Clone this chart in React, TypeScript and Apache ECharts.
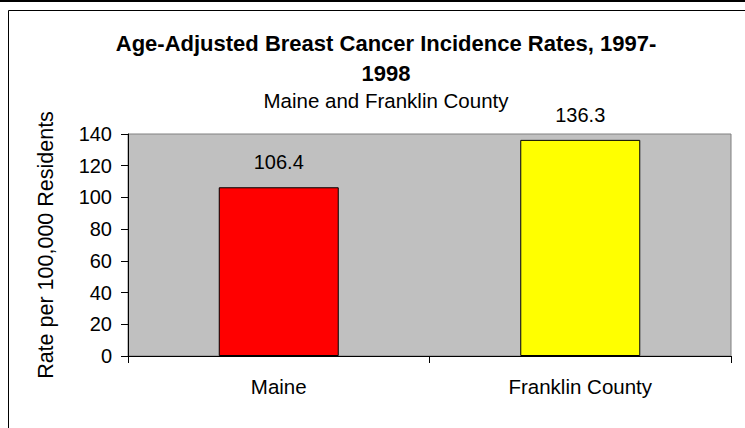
import React, { useEffect, useRef } from "react";
import * as echarts from "echarts";

const categories = ["Maine", "Franklin County"];
const rates = [106.4, 136.3];
const barColors = ["#FF0000", "#FFFF00"];
const titleText = "Age-Adjusted Breast Cancer Incidence Rates, 1997-\n1998";
const subtitleText = "Maine and Franklin County";
const yAxisName = "Rate per 100,000 Residents";

const FONT = "'Liberation Sans', Arial, Helvetica, sans-serif";

export default function App() {
  const ref = useRef<HTMLDivElement>(null);
  useEffect(() => {
    if (!ref.current) return;
    const chart = echarts.init(ref.current, undefined, { renderer: "svg" });
    chart.setOption({
      animation: false,
      backgroundColor: "#FFFFFF",
      textStyle: { fontFamily: FONT, color: "#000" },
      title: [
        {
          text: titleText,
          left: 381,
          top: 23,
          textAlign: "center",
          textStyle: { fontFamily: FONT, fontSize: 22, fontWeight: "bold", color: "#000", lineHeight: 30 },
        },
        {
          text: subtitleText,
          left: 381,
          top: 85,
          textAlign: "center",
          textStyle: { fontFamily: FONT, fontSize: 20.5, fontWeight: "normal", color: "#000" },
        },
      ],
      grid: {
        left: 128,
        top: 134,
        right: 14,
        bottom: 72,
        show: true,
        backgroundColor: "#C0C0C0",
        borderColor: "#808080",
        borderWidth: 1,
      },
      xAxis: {
        type: "category",
        data: categories,
        axisLine: { lineStyle: { color: "#000", width: 1 } },
        axisTick: { show: true, length: 7, interval: 0, lineStyle: { color: "#000" } },
        axisLabel: { fontFamily: FONT, fontSize: 20.5, color: "#000", margin: 20 },
        splitLine: { show: false },
      },
      yAxis: {
        type: "value",
        min: 0,
        max: 140,
        interval: 20,
        name: yAxisName,
        nameLocation: "middle",
        nameGap: 71,
        nameTextStyle: { fontFamily: FONT, fontSize: 21.5, color: "#000" },
        axisLine: { show: true, lineStyle: { color: "#000", width: 1 } },
        axisTick: { show: true, length: 7, lineStyle: { color: "#000" } },
        axisLabel: { fontFamily: FONT, fontSize: 20, color: "#000", margin: 16 },
        splitLine: { show: false },
      },
      series: [
        {
          type: "bar",
          barWidth: 120,
          data: rates.map((v, i) => ({
            value: v,
            itemStyle: { color: barColors[i], borderColor: "#000", borderWidth: 1 },
          })),
          label: {
            show: true,
            position: "top",
            distance: 15,
            fontFamily: FONT,
            fontSize: 20,
            color: "#000",
            formatter: (p: any) => p.value.toFixed(1),
          },
        },
      ],
      graphic: [
        {
          type: "line",
          shape: { x1: 0, y1: 1, x2: 745, y2: 1 },
          style: { stroke: "#000", lineWidth: 2 },
          silent: true,
        },
        {
          type: "polyline",
          shape: { points: [[8.5, 428], [8.5, 10.5], [745, 10.5]] },
          style: { stroke: "#000", lineWidth: 1, fill: "none" },
          silent: true,
        },
      ],
    });
    return () => chart.dispose();
  }, []);
  return (
    <div
      ref={ref}
      style={{ position: "fixed", left: 0, top: 0, width: 745, height: 428 }}
    />
  );
}
